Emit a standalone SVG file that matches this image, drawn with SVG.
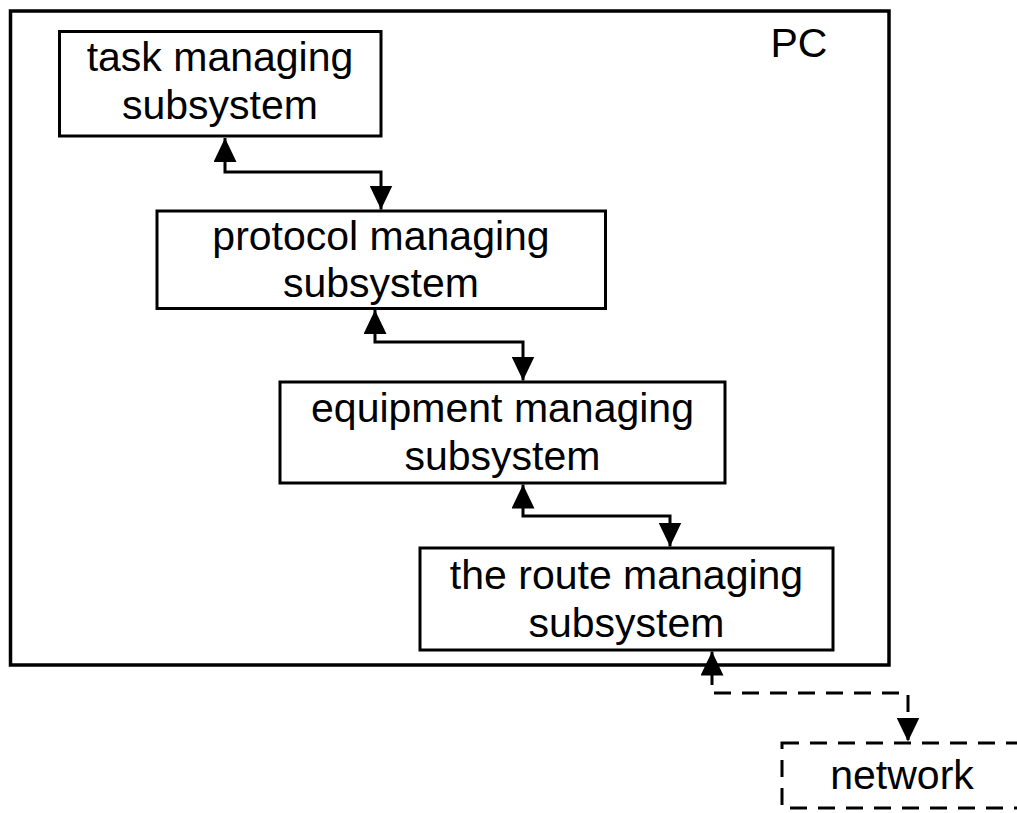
<svg xmlns="http://www.w3.org/2000/svg" width="1017" height="813" viewBox="0 0 1017 813">
<style>
.box{fill:none;stroke:#000;stroke-width:3}
.pc{fill:none;stroke:#000;stroke-width:3.5}
.dash{fill:none;stroke:#000;stroke-width:3;stroke-dasharray:17 11}
.t{font-family:"Liberation Sans",Arial,sans-serif;font-size:41px;fill:#000;text-anchor:middle}
.c{fill:none;stroke:#000;stroke-width:3}
</style>
<defs>
<marker id="ah" viewBox="0 0 24 23" refX="24" refY="11.5" markerWidth="24" markerHeight="23" markerUnits="userSpaceOnUse" orient="auto-start-reverse">
<path d="M0,0 L24,11.5 L0,23 z" fill="#000"/>
</marker>
</defs>
<rect fill="#fff" x="0" y="0" width="1017" height="813"/>
<g id="pc">
<rect class="pc" x="10.5" y="11" width="878.5" height="654"/>
<text class="t" x="799" y="57">PC</text>
</g>
<g id="task">
<rect class="box" x="59.5" y="31.5" width="321.5" height="104.5"/>
<text class="t" x="220" y="71">task managing</text>
<text class="t" x="220" y="119">subsystem</text>
</g>
<g id="protocol">
<rect class="box" x="157" y="211" width="448.5" height="97.5"/>
<text class="t" x="381" y="250">protocol managing</text>
<text class="t" x="381" y="297">subsystem</text>
</g>
<g id="equipment">
<rect class="box" x="280" y="382" width="445" height="101"/>
<text class="t" x="502.5" y="422">equipment managing</text>
<text class="t" x="502.5" y="470">subsystem</text>
</g>
<g id="route">
<rect class="box" x="420" y="548" width="413" height="102"/>
<text class="t" x="626.5" y="589">the route managing</text>
<text class="t" x="626.5" y="637">subsystem</text>
</g>
<g id="network">
<rect class="dash" x="782" y="743" width="260" height="65"/>
<text class="t" x="902" y="789">network</text>
</g>
<g id="connectors">
<path class="c" d="M225,138 V172 H381 V209.5" marker-start="url(#ah)" marker-end="url(#ah)"/>
<path class="c" d="M375,310 V342 H523 V380.5" marker-start="url(#ah)" marker-end="url(#ah)"/>
<path class="c" d="M523,484.5 V516 H670 V546.5" marker-start="url(#ah)" marker-end="url(#ah)"/>
<path class="c" d="M712,651.5 V685" marker-start="url(#ah)"/>
<path class="dash" d="M712,685 V693 H908 V741.5" stroke-dashoffset="-10" marker-end="url(#ah)"/>
</g>
</svg>
